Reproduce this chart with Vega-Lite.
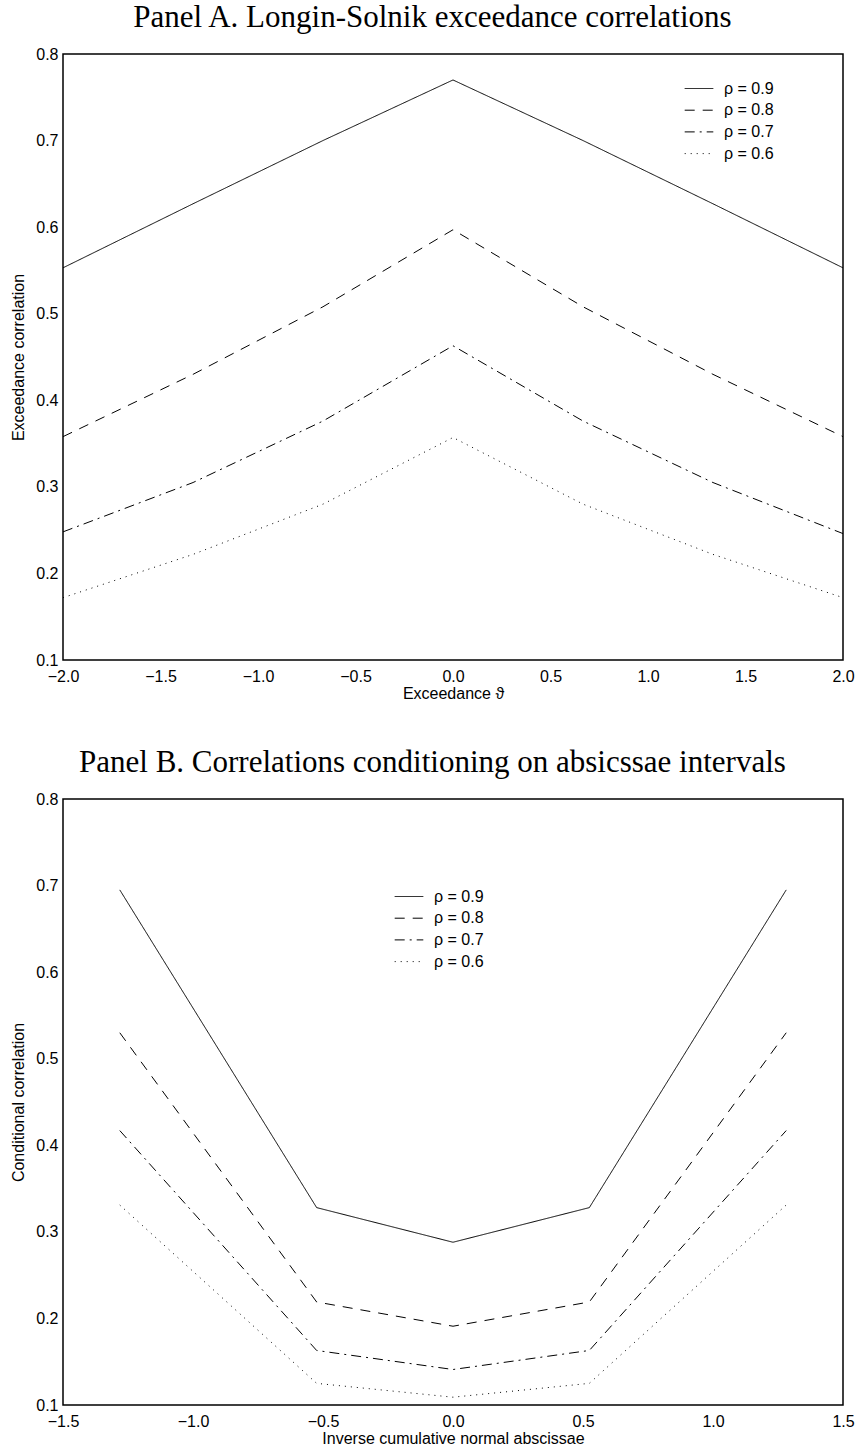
{
  "$schema": "https://vega.github.io/schema/vega-lite/v6.json",
  "padding": {"left": 10, "top": 1, "right": 12, "bottom": 5},
  "spacing": 44,
  "datasets": {
    "panelA": [
      {"theta": -2.0, "corr": 0.553, "rho": "ρ = 0.9"},
      {"theta": -1.333, "corr": 0.627, "rho": "ρ = 0.9"},
      {"theta": -0.667, "corr": 0.700, "rho": "ρ = 0.9"},
      {"theta": 0.0, "corr": 0.770, "rho": "ρ = 0.9"},
      {"theta": 0.667, "corr": 0.700, "rho": "ρ = 0.9"},
      {"theta": 1.333, "corr": 0.627, "rho": "ρ = 0.9"},
      {"theta": 2.0, "corr": 0.553, "rho": "ρ = 0.9"},
      {"theta": -2.0, "corr": 0.358, "rho": "ρ = 0.8"},
      {"theta": -1.333, "corr": 0.430, "rho": "ρ = 0.8"},
      {"theta": -0.667, "corr": 0.508, "rho": "ρ = 0.8"},
      {"theta": 0.0, "corr": 0.597, "rho": "ρ = 0.8"},
      {"theta": 0.667, "corr": 0.508, "rho": "ρ = 0.8"},
      {"theta": 1.333, "corr": 0.430, "rho": "ρ = 0.8"},
      {"theta": 2.0, "corr": 0.358, "rho": "ρ = 0.8"},
      {"theta": -2.0, "corr": 0.248, "rho": "ρ = 0.7"},
      {"theta": -1.333, "corr": 0.305, "rho": "ρ = 0.7"},
      {"theta": -0.667, "corr": 0.376, "rho": "ρ = 0.7"},
      {"theta": 0.0, "corr": 0.463, "rho": "ρ = 0.7"},
      {"theta": 0.667, "corr": 0.376, "rho": "ρ = 0.7"},
      {"theta": 1.333, "corr": 0.305, "rho": "ρ = 0.7"},
      {"theta": 2.0, "corr": 0.246, "rho": "ρ = 0.7"},
      {"theta": -2.0, "corr": 0.172, "rho": "ρ = 0.6"},
      {"theta": -1.333, "corr": 0.222, "rho": "ρ = 0.6"},
      {"theta": -0.667, "corr": 0.280, "rho": "ρ = 0.6"},
      {"theta": 0.0, "corr": 0.357, "rho": "ρ = 0.6"},
      {"theta": 0.667, "corr": 0.280, "rho": "ρ = 0.6"},
      {"theta": 1.333, "corr": 0.222, "rho": "ρ = 0.6"},
      {"theta": 2.0, "corr": 0.172, "rho": "ρ = 0.6"}
    ],
    "panelB": [
      {"x": -1.2816, "corr": 0.695, "rho": "ρ = 0.9"},
      {"x": -0.5244, "corr": 0.328, "rho": "ρ = 0.9"},
      {"x": 0.0, "corr": 0.288, "rho": "ρ = 0.9"},
      {"x": 0.5244, "corr": 0.328, "rho": "ρ = 0.9"},
      {"x": 1.2816, "corr": 0.695, "rho": "ρ = 0.9"},
      {"x": -1.2816, "corr": 0.530, "rho": "ρ = 0.8"},
      {"x": -0.5244, "corr": 0.219, "rho": "ρ = 0.8"},
      {"x": 0.0, "corr": 0.191, "rho": "ρ = 0.8"},
      {"x": 0.5244, "corr": 0.219, "rho": "ρ = 0.8"},
      {"x": 1.2816, "corr": 0.530, "rho": "ρ = 0.8"},
      {"x": -1.2816, "corr": 0.417, "rho": "ρ = 0.7"},
      {"x": -0.5244, "corr": 0.163, "rho": "ρ = 0.7"},
      {"x": 0.0, "corr": 0.141, "rho": "ρ = 0.7"},
      {"x": 0.5244, "corr": 0.163, "rho": "ρ = 0.7"},
      {"x": 1.2816, "corr": 0.417, "rho": "ρ = 0.7"},
      {"x": -1.2816, "corr": 0.331, "rho": "ρ = 0.6"},
      {"x": -0.5244, "corr": 0.125, "rho": "ρ = 0.6"},
      {"x": 0.0, "corr": 0.109, "rho": "ρ = 0.6"},
      {"x": 0.5244, "corr": 0.125, "rho": "ρ = 0.6"},
      {"x": 1.2816, "corr": 0.331, "rho": "ρ = 0.6"}
    ]
  },
  "resolve": {"scale": {"strokeDash": "independent"}, "legend": {"strokeDash": "independent"}},
  "vconcat": [
    {
      "title": {"text": "Panel A. Longin-Solnik exceedance correlations"},
      "width": 780,
      "height": 606,
      "data": {"name": "panelA"},
      "mark": {"type": "line", "color": "black", "strokeWidth": 1},
      "encoding": {
        "x": {"field": "theta", "type": "quantitative", "title": "Exceedance ϑ",
              "scale": {"domain": [-2, 2], "nice": false, "zero": false},
              "axis": {"values": [-2, -1.5, -1, -0.5, 0, 0.5, 1, 1.5, 2], "format": ".1f", "labelPadding": 8, "titlePadding": 1}},
        "y": {"field": "corr", "type": "quantitative", "title": "Exceedance correlation",
              "scale": {"domain": [0.1, 0.8], "nice": false, "zero": false},
              "axis": {"values": [0.1, 0.2, 0.3, 0.4, 0.5, 0.6, 0.7, 0.8], "format": ".1f", "titlePadding": 9}},
        "strokeDash": {"field": "rho", "type": "nominal",
              "scale": {"domain": ["ρ = 0.9", "ρ = 0.8", "ρ = 0.7", "ρ = 0.6"],
                        "range": [[1, 0], [10, 8], [10, 5, 2, 5], [1, 5]]},
              "legend": {"orient": "none", "legendX": 624.5, "legendY": 23}}
      }
    },
    {
      "title": {"text": "Panel B. Correlations conditioning on absicssae intervals"},
      "width": 780,
      "height": 606,
      "data": {"name": "panelB"},
      "mark": {"type": "line", "color": "black", "strokeWidth": 1},
      "encoding": {
        "x": {"field": "x", "type": "quantitative", "title": "Inverse cumulative normal abscissae",
              "scale": {"domain": [-1.5, 1.5], "nice": false, "zero": false},
              "axis": {"values": [-1.5, -1, -0.5, 0, 0.5, 1, 1.5], "format": ".1f", "labelPadding": 8, "titlePadding": 1}},
        "y": {"field": "corr", "type": "quantitative", "title": "Conditional correlation",
              "scale": {"domain": [0.1, 0.8], "nice": false, "zero": false},
              "axis": {"values": [0.1, 0.2, 0.3, 0.4, 0.5, 0.6, 0.7, 0.8], "format": ".1f", "titlePadding": 9}},
        "strokeDash": {"field": "rho", "type": "nominal",
              "scale": {"domain": ["ρ = 0.9", "ρ = 0.8", "ρ = 0.7", "ρ = 0.6"],
                        "range": [[1, 0], [10, 8], [10, 5, 2, 5], [1, 5]]},
              "legend": {"orient": "none", "legendX": 334.5, "legendY": 86}}
      }
    }
  ],
  "config": {
    "font": "Liberation Sans",
    "background": "white",
    "view": {"stroke": "black", "strokeWidth": 1.5},
    "axis": {"domain": false, "ticks": false, "grid": false, "labelFont": "Liberation Sans", "labelFontSize": 16,
             "labelColor": "black", "titleFont": "Liberation Sans", "titleFontSize": 16, "titleFontWeight": "normal",
             "titleColor": "black", "labelFlush": false, "labelPadding": 5, "labelOverlap": false},
    "title": {"font": "Liberation Serif", "fontSize": 31, "fontWeight": "normal", "color": "black", "anchor": "middle", "frame": "bounds", "offset": 12},
    "legend": {"title": null, "symbolType": "M-1.3,0L1.3,0", "symbolSize": 484, "symbolStrokeWidth": 1,
               "symbolStrokeColor": "black", "symbolFillColor": "transparent", "labelFont": "Liberation Sans",
               "labelFontSize": 16, "labelColor": "black", "labelOffset": 13.5, "rowPadding": 1.7, "padding": 0}
  }
}
